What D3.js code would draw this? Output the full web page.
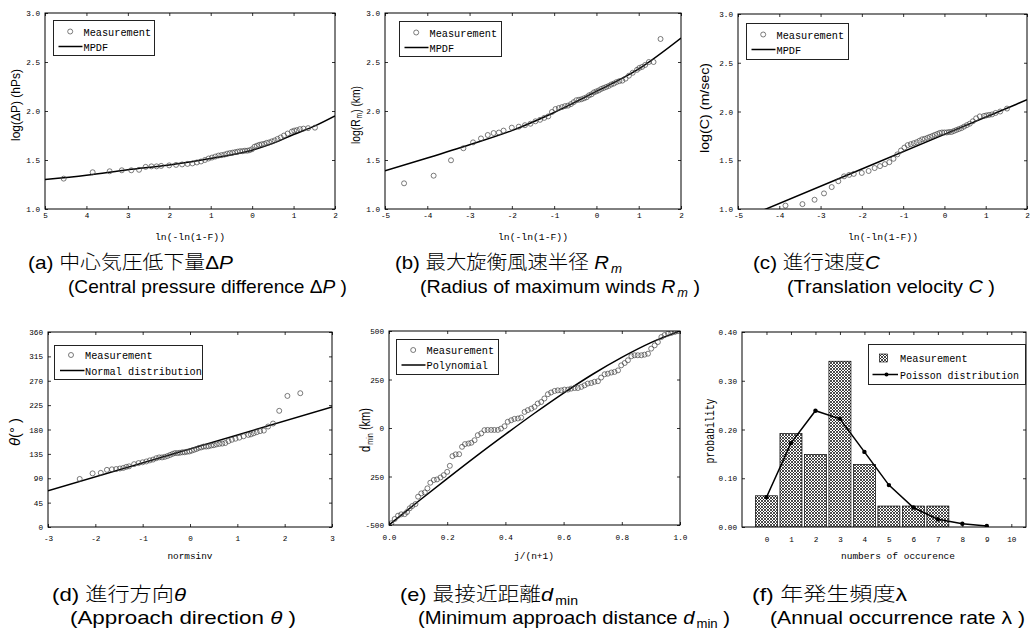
<!DOCTYPE html>
<html><head><meta charset="utf-8">
<script src="https://cdn.jsdelivr.net/npm/d3@7"></script>
<style>body{margin:0;background:#fff}svg{display:block}</style>
</head><body>
<svg id="c" width="1030" height="635"></svg>
<script>
// ---------- DATA ----------
// Gumbel reduced variate positions used by panels (a)(b)(c)
const GX = [-4.549,-3.850,-3.439,-3.146,-2.917,-2.730,-2.570,-2.431,-2.307,-2.196,
 -2.002,-1.836,-1.690,-1.560,-1.442,-1.334,-1.234,-1.140,-1.052,-0.969,-0.890,-0.814,-0.742,-0.672,-0.604,
 -0.539,-0.475,-0.412,-0.351,-0.291,-0.232,-0.174,-0.116,-0.059,-0.002,0.056,0.113,0.171,0.230,0.289,
 0.350,0.412,0.476,0.543,0.613,0.688,0.768,0.857,0.959,1.016,1.080,1.153,1.240,1.351,1.516];
const A_Y = [1.31,1.375,1.385,1.395,1.395,1.40,1.43,1.435,1.435,1.44,
 1.445,1.45,1.455,1.46,1.465,1.475,1.485,1.50,1.515,1.525,1.535,1.545,1.55,1.555,1.565,
 1.57,1.575,1.58,1.585,1.59,1.59,1.595,1.595,1.60,1.61,1.635,1.645,1.655,1.66,1.665,
 1.675,1.68,1.69,1.70,1.715,1.73,1.75,1.77,1.79,1.80,1.805,1.815,1.82,1.825,1.83];
const A_LX = [-5,-4,-3,-2,-1,0,0.5,1,1.5,2];
const A_LY = [1.30,1.345,1.40,1.45,1.515,1.60,1.67,1.76,1.845,1.95];

const B_Y = [1.262,1.34,1.497,1.62,1.68,1.72,1.755,1.775,1.78,1.80,
 1.83,1.84,1.855,1.87,1.895,1.91,1.93,1.945,1.99,2.02,2.03,2.04,2.05,2.055,2.07,
 2.09,2.11,2.115,2.12,2.13,2.14,2.16,2.17,2.19,2.20,2.21,2.225,2.235,2.245,2.255,
 2.27,2.28,2.295,2.305,2.31,2.33,2.36,2.39,2.42,2.44,2.45,2.47,2.50,2.50,2.735];
const B_LX = [-5,-4,-3,-2,-1,0,1,2];
const B_LY = [1.39,1.52,1.655,1.80,1.985,2.20,2.43,2.745];

const C_Y = [0.96,1.035,1.05,1.095,1.16,1.225,1.285,1.335,1.35,1.36,
 1.37,1.39,1.42,1.44,1.46,1.48,1.515,1.56,1.60,1.63,1.655,1.665,1.675,1.685,1.70,
 1.715,1.72,1.73,1.74,1.75,1.76,1.77,1.78,1.785,1.785,1.785,1.79,1.79,1.80,1.81,
 1.82,1.83,1.845,1.86,1.875,1.90,1.93,1.95,1.955,1.96,1.965,1.97,1.985,2.00,2.03];
const C_LX = [-5,-2,0,2];
const C_LY = [0.88,1.41,1.765,2.12];

// panel (d): normal quantiles vs direction
const D_X = [-2.330,-2.058,-1.885,-1.755,-1.650,-1.560,-1.481,-1.410,-1.346,-1.287,
 -1.181,-1.087,-1.001,-0.922,-0.849,-0.780,-0.714,-0.651,-0.591,-0.533,-0.477,-0.421,-0.368,-0.316,-0.264,
 -0.213,-0.162,-0.112,-0.062,-0.012,0.037,0.087,0.137,0.187,0.238,0.289,0.341,0.394,0.449,0.504,
 0.562,0.621,0.682,0.746,0.814,0.885,0.961,1.043,1.132,1.232,1.287,1.346,1.410,1.481,1.560,1.650,1.755,1.885,2.058,2.330];
const D_Y = [88.7,99,100,105.5,106.5,107,108,109,111,112,
 116,118,119.5,121,123,124.5,127,128.5,128.5,129.5,131,133,135,136.5,136.5,
 137,138,138,139,139.5,141,142.5,144,146,147,148.5,148.5,149,150.5,151,
 152.5,153.5,154,155,158.5,161,163,165,167.5,170,171,173,175,177,178,185.5,191,214.5,242,247];
const D_LX = [-3,3];
const D_LY = [67,221.5];

// panel (e): j/(n+1) vs minimum approach distance
const E_X = [.008,.0195,.031,.042,.054,.062,.071,.080,.091,.100,.111,.123,.132,.142,.154,.165,.177,.188,.200,.209,
 .218,.229,.241,.251,.261,.273,.283,.294,.305,.317,.328,.339,.351,.362,.374,.385,.397,.408,.420,.431,
 .443,.454,.466,.477,.489,.500,.511,.523,.534,.546,.557,.569,.580,.592,.603,.615,.626,.638,.649,.661,
 .672,.683,.695,.706,.718,.729,.741,.752,.764,.775,.787,.798,.810,.821,.833,.844,.855,.867,.878,.890,
 .901,.913,.924,.936,.947,.959,.970,.982,.993];
const E_Y = [-491,-469,-452,-445,-444,-433,-414,-402,-392,-354,-337,-332,-311,-282,-268,-265,-255,-243,-226,-195,
 -145,-136,-135,-97,-83,-80,-76,-63,-37,-28,-11,-10,-10,-10,-10,-3,9,32,40,47,
 49,54,83,92,100,109,126,134,152,174,183,191,194,194,198,198,203,206,206,212,
 220,229,232,238,241,260,277,280,286,289,297,323,335,349,370,375,375,375,378,383,
 409,426,443,469,479,486,490,495,499];
const E_LX = [0,0.1,0.2,0.3,0.4,0.5,0.6,0.7,0.8,0.9,1.0];
const E_LY = [-500,-379,-261,-145,-33,76,180,277,364,440,500];

// panel (f): annual occurrence
const F_CAT = [0,1,2,3,4,5,6,7];
const F_BAR = [0.064,0.1915,0.149,0.340,0.128,0.043,0.043,0.043];
const F_PX = [0,1,2,3,4,5,6,7,8,9];
const F_PY = [0.061,0.172,0.2385,0.222,0.154,0.086,0.040,0.016,0.0068,0.002];

// tick labels
const XT_A = [-5,-4,-3,-2,-1,0,1,2];
const XL_A = ["5","4","3","2","1","0","1","2"];
const XL_BC = ["-5","-4","-3","-2","-1","0","1","2"];
const YT_ABC = [1,1.5,2,2.5,3];
const YL_ABC = ["1.0","1.5","2.0","2.5","3.0"];
const XT_D = [-3,-2,-1,0,1,2,3];
const XL_D = ["-3","-2","-1","0","1","2","3"];
const YT_D = [0,45,90,135,180,225,270,315,360];
const YL_D = ["0","45","90","135","180","225","270","315","360"];
const XT_E = [0,0.2,0.4,0.6,0.8,1.0];
const XL_E = ["0.0","0.2","0.4","0.6","0.8","1.0"];
const YT_E = [-500,-250,0,250,500];
const YL_E = ["-500","250","0","250","500"];
const XT_F = [0,1,2,3,4,5,6,7,8,9,10];
const XL_F = ["0","1","2","3","4","5","6","7","8","9","10"];
const YT_F = [0,0.1,0.2,0.3,0.4];
const YL_F = ["0.00","0.10","0.20","0.30","0.40"];

// ---------- DRAWING ----------
const LAT = "'Liberation Sans', Arial, sans-serif";
const JP = "'Noto Sans CJK JP', sans-serif";
const MONO = "'Liberation Mono', 'DejaVu Sans Mono', monospace";
const svg = d3.select("#c");
const defs = svg.append("defs");

const hatch = defs.append("pattern").attr("id","hatch").attr("patternUnits","userSpaceOnUse")
  .attr("width",3).attr("height",3);
hatch.append("rect").attr("width",3).attr("height",3).attr("fill","#fff");
hatch.append("path").attr("d","M0,0L3,3M3,0L0,3M-1,2L1,4M2,-1L4,1").attr("stroke","#111").attr("stroke-width",0.75);

function zip(a,b){return a.map((v,i)=>[v,b[i]]);}

function squeeze(sel, per){
  sel.each(function(){
    const s=d3.select(this); const n=s.text().length;
    s.attr("textLength", n*per).attr("lengthAdjust","spacingAndGlyphs");
  });
}

function panel(o){
  const x = d3.scaleLinear().domain(o.xd).range([o.x0,o.x1]);
  const y = d3.scaleLinear().domain(o.yd).range([o.y1,o.y0]);
  const g = svg.append("g");
  const cid = "clip"+o.id;
  defs.append("clipPath").attr("id",cid).append("rect")
    .attr("x",o.x0).attr("y",o.y0).attr("width",o.x1-o.x0).attr("height",o.y1-o.y0);
  const style = a => {
    a.select(".domain").remove();
    a.selectAll("line").attr("stroke","#000").attr("stroke-width",0.8);
    a.selectAll("text").attr("font-family",MONO).attr("font-size",8).attr("fill","#000");
  };
  const ab = g.append("g").attr("transform",`translate(0,${o.y1})`)
    .call(d3.axisBottom(x).tickValues(o.xt).tickSizeInner(-3).tickSizeOuter(0).tickPadding(o.xpad)
      .tickFormat((d,i)=>o.xl[i]));
  style(ab); squeeze(ab.selectAll("text"),4.6);
  const at = g.append("g").attr("transform",`translate(0,${o.y0})`)
    .call(d3.axisTop(x).tickValues(o.xt).tickSizeInner(-3).tickSizeOuter(0).tickFormat(""));
  style(at);
  const al = g.append("g").attr("transform",`translate(${o.x0},0)`)
    .call(d3.axisLeft(y).tickValues(o.yt).tickSizeInner(-3).tickSizeOuter(0).tickPadding(5)
      .tickFormat((d,i)=>o.yl[i]));
  style(al); squeeze(al.selectAll("text"),4.6);
  const ar = g.append("g").attr("transform",`translate(${o.x1},0)`)
    .call(d3.axisRight(y).tickValues(o.yt).tickSizeInner(-3).tickSizeOuter(0).tickFormat(""));
  style(ar);
  const plot = g.append("g").attr("clip-path",`url(#${cid})`);
  g.append("rect").attr("x",o.x0).attr("y",o.y0).attr("width",o.x1-o.x0).attr("height",o.y1-o.y0)
    .attr("fill","none").attr("stroke","#000").attr("stroke-width",1);
  return {x,y,g,plot};
}

function points(p, xs, ys){
  p.plot.append("g").selectAll("circle").data(zip(xs,ys)).join("circle")
    .attr("cx",d=>p.x(d[0])).attr("cy",d=>p.y(d[1])).attr("r",2.5)
    .attr("fill","none").attr("stroke","#444").attr("stroke-width",0.7);
}
function curve(p, xs, ys, c){
  p.plot.append("path").datum(zip(xs,ys))
    .attr("d",d3.line().x(d=>p.x(d[0])).y(d=>p.y(d[1])).curve(c||d3.curveMonotoneX))
    .attr("fill","none").attr("stroke","#000").attr("stroke-width",1.5);
}

function rich(parent, x, y, segs, size, len, anchor){
  const t = parent.append("text").attr("x",x).attr("y",y).attr("font-size",size)
    .attr("font-family",LAT).attr("fill","#000").attr("text-anchor",anchor||"start");
  let sub=false;
  const drop = size*0.2;
  segs.forEach(s=>{
    const ts = t.append("tspan").text(s.t);
    if(s.jp) ts.attr("font-family",JP).attr("font-weight",300);
    if(s.it) ts.attr("font-style","italic");
    if(s.mono) ts.attr("font-family",MONO);
    if(s.sub){ ts.attr("font-size",size*0.65).attr("dx",size*0.1); if(!sub) ts.attr("dy",drop); sub=true; }
    else { ts.attr("font-size",size); if(sub){ ts.attr("dy",-drop); sub=false; } }
  });
  if(len) t.attr("textLength",len).attr("lengthAdjust","spacingAndGlyphs");
  return t;
}
function ylabel(cx, cy, segs, size, len){
  const g = svg.append("g").attr("transform",`translate(${cx},${cy}) rotate(-90)`);
  rich(g, 0, size*0.35, segs, size, len, "middle");
}
function xlabel(cx, y, txt, len){
  const t = svg.append("text").attr("x",cx).attr("y",y).attr("text-anchor","middle")
    .attr("font-family",MONO).attr("font-size",9.5).text(txt);
  if(len) t.attr("textLength",len).attr("lengthAdjust","spacingAndGlyphs");
}
function legend(bx, by, w, h, rows){
  const g = svg.append("g");
  g.append("rect").attr("x",bx).attr("y",by).attr("width",w).attr("height",h)
    .attr("fill","#fff").attr("stroke","#222").attr("stroke-width",1);
  rows.forEach(r=>{
    const cy = by + r.dy;
    if(r.kind==="circle"){
      g.append("circle").attr("cx",bx+r.mx).attr("cy",cy).attr("r",2.5)
        .attr("fill","none").attr("stroke","#444").attr("stroke-width",0.7);
    } else if(r.kind==="line" || r.kind==="linedot"){
      g.append("line").attr("x1",bx+r.l0).attr("x2",bx+r.l1).attr("y1",cy).attr("y2",cy)
        .attr("stroke","#000").attr("stroke-width",1.5);
      if(r.kind==="linedot") g.append("circle").attr("cx",bx+r.mx).attr("cy",cy).attr("r",2).attr("fill","#000");
    } else if(r.kind==="hatch"){
      g.append("rect").attr("x",bx+r.mx-4).attr("y",cy-4).attr("width",8).attr("height",8)
        .attr("fill","url(#hatch)").attr("stroke","#000").attr("stroke-width",0.6);
    }
    g.append("text").attr("x",bx+r.tx).attr("y",cy+4).attr("font-family",MONO).attr("font-size",10.5)
      .attr("textLength",r.text.length*(r.per||6.15)).attr("lengthAdjust","spacingAndGlyphs").text(r.text);
  });
}

// ---- (a)
const pa = panel({id:"a",x0:45,x1:335,y0:13,y1:209,xd:[-5,2],yd:[1,3],xt:XT_A,xl:XL_A,yt:YT_ABC,yl:YL_ABC,xpad:3});
curve(pa,A_LX,A_LY); points(pa,GX,A_Y);
legend(53.5,20.5,101,35,[{kind:"circle",dy:11,mx:16.7,tx:30,text:"Measurement"},{kind:"line",dy:26,l0:5,l1:29,tx:30,text:"MPDF"}]);
ylabel(15,105,[{t:"log(ΔP) (hPs)"}],13,72);
xlabel(190,240,"ln(-ln(1-F))",70);

// ---- (b)
const pb = panel({id:"b",x0:385,x1:681,y0:13,y1:209,xd:[-5,2],yd:[1,3],xt:XT_A,xl:XL_BC,yt:YT_ABC,yl:YL_ABC,xpad:3});
curve(pb,B_LX,B_LY); points(pb,GX,B_Y);
legend(399.5,21.5,102,35,[{kind:"circle",dy:11,mx:16.7,tx:30,text:"Measurement"},{kind:"line",dy:26,l0:5,l1:29,tx:30,text:"MPDF"}]);
ylabel(355,115,[{t:"log(R"},{t:"m",sub:true},{t:") (km)"}],13,58);
xlabel(533,240,"ln(-ln(1-F))",70);

// ---- (c)
const pc = panel({id:"c",x0:738,x1:1027,y0:14,y1:209,xd:[-5,2],yd:[1,3],xt:XT_A,xl:XL_BC,yt:YT_ABC,yl:YL_ABC,xpad:3});
curve(pc,C_LX,C_LY,d3.curveLinear); points(pc,GX,C_Y);
legend(746.5,23.5,102,36,[{kind:"circle",dy:11,mx:16.7,tx:30,text:"Measurement"},{kind:"line",dy:26,l0:5,l1:29,tx:30,text:"MPDF"}]);
ylabel(704,108,[{t:"log(C) (m/sec)"}],13,90);
xlabel(883,240,"ln(-ln(1-F))",70);

// ---- (d)
const pd = panel({id:"d",x0:48,x1:332,y0:332,y1:527,xd:[-3,3],yd:[0,360],xt:XT_D,xl:XL_D,yt:YT_D,yl:YL_D,xpad:8});
curve(pd,D_LX,D_LY,d3.curveLinear); points(pd,D_X,D_Y);
legend(54.5,345.5,148,34,[{kind:"circle",dy:9.5,mx:16.5,tx:30.5,text:"Measurement"},{kind:"line",dy:25,l0:5.5,l1:30,tx:30.5,text:"Normal distribution"}]);
ylabel(15,432,[{t:"θ",it:true},{t:"(° )"}],14,28);
xlabel(190,559,"normsinv",45);

// ---- (e)
const pe = panel({id:"e",x0:389,x1:680,y0:331,y1:525,xd:[0,1],yd:[-500,500],xt:XT_E,xl:XL_E,yt:YT_E,yl:YL_E,xpad:9});
curve(pe,E_LX,E_LY); points(pe,E_X,E_Y);
legend(396.5,339.5,102,35,[{kind:"circle",dy:10.5,mx:16.7,tx:30,text:"Measurement"},{kind:"line",dy:25.5,l0:5,l1:29,tx:30,text:"Polynomial"}]);
ylabel(365,430,[{t:"d"},{t:"min",sub:true},{t:" (km)"}],14,44);
xlabel(534,559,"j/(n+1)",40);

// ---- (f)
const pf = panel({id:"f",x0:742,x1:1026,y0:332,y1:527,xd:[-1,10.6],yd:[0,0.4],xt:XT_F,xl:XL_F,yt:YT_F,yl:YL_F,xpad:9});
const bw = (pf.x(1)-pf.x(0))*0.9;
pf.plot.append("g").selectAll("rect").data(zip(F_CAT,F_BAR)).join("rect")
  .attr("x",d=>pf.x(d[0])-bw/2).attr("width",bw)
  .attr("y",d=>pf.y(d[1])).attr("height",d=>pf.y(0)-pf.y(d[1]))
  .attr("fill","url(#hatch)").attr("stroke","#000").attr("stroke-width",0.7);
curve(pf,F_PX,F_PY,d3.curveLinear);
pf.plot.append("g").selectAll("circle").data(zip(F_PX,F_PY)).join("circle")
  .attr("cx",d=>pf.x(d[0])).attr("cy",d=>pf.y(d[1])).attr("r",2.2).attr("fill","#000");
legend(868.5,344.5,157,40,[{kind:"hatch",dy:13.5,mx:15,tx:31.5,text:"Measurement"},{kind:"linedot",dy:30,l0:4,l1:29.5,mx:18,tx:31.5,per:5.95,text:"Poisson distribution"}]);
ylabel(710,431,[{t:"probability",mono:true}],12,65);
xlabel(898,559,"numbers of occurence",114);

// ---- captions
const CAP = [
 {x:28,y:269,len:205,segs:[{t:"(a)  "},{t:"中心気圧低下量",jp:true},{t:"Δ"},{t:"P",it:true}]},
 {x:68,y:293,len:279,segs:[{t:"(Central pressure difference  "},{t:"Δ"},{t:"P",it:true},{t:" )"}]},
 {x:395,y:269,len:227,segs:[{t:"(b)  "},{t:"最大旋衡風速半径",jp:true},{t:" "},{t:"R",it:true},{t:"m",it:true,sub:true}]},
 {x:420,y:293,len:280,segs:[{t:"(Radius of maximum winds  "},{t:"R",it:true},{t:"m",it:true,sub:true},{t:" )"}]},
 {x:753,y:269,len:127,segs:[{t:"(c)  "},{t:"進行速度",jp:true},{t:"C",it:true}]},
 {x:787,y:293,len:208,segs:[{t:"(Translation velocity  "},{t:"C",it:true},{t:" )"}]},
 {x:52,y:601,len:134,segs:[{t:"(d)  "},{t:"進行方向",jp:true},{t:"θ",it:true}]},
 {x:70,y:624,len:226,segs:[{t:"(Approach direction  "},{t:"θ",it:true},{t:" )"}]},
 {x:400,y:601,len:178,segs:[{t:"(e)  "},{t:"最接近距離",jp:true},{t:"d",it:true},{t:"min",sub:true}]},
 {x:418,y:624,len:312,segs:[{t:"(Minimum approach distance  "},{t:"d",it:true},{t:"min",sub:true},{t:" )"}]},
 {x:752,y:601,len:155,segs:[{t:"(f)  "},{t:"年発生頻度",jp:true},{t:"λ"}]},
 {x:770,y:624,len:255,segs:[{t:"(Annual occurrence rate  "},{t:"λ"},{t:" )"}]}
];
CAP.forEach(c=>rich(svg,c.x,c.y,c.segs,19,c.len));
</script>
</body></html>
